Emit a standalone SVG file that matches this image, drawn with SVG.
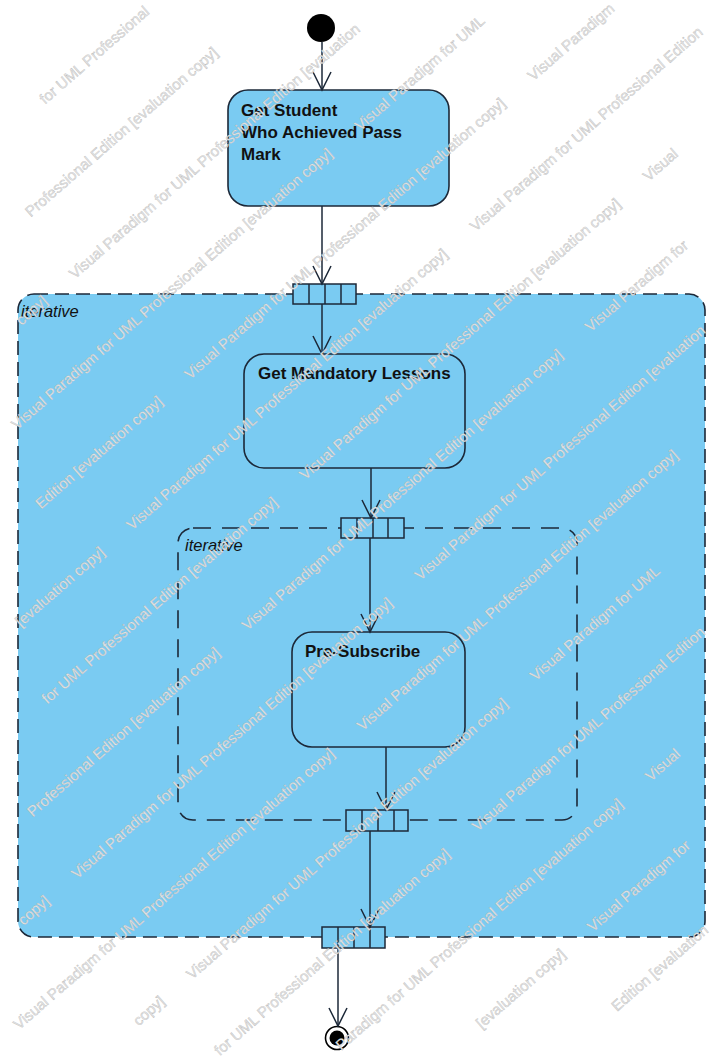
<svg xmlns="http://www.w3.org/2000/svg" width="715" height="1061" viewBox="0 0 715 1061">
<style>
.region{fill:#7acbf2;stroke:#1c2838;stroke-width:1.6;stroke-dasharray:14 7}
.inner{fill:none;stroke:#1c2838;stroke-width:1.6;stroke-dasharray:18 11}
.action{fill:#7acbf2;stroke:#1c2838;stroke-width:1.6}
.pin{fill:#7acbf2;stroke:#1c2838;stroke-width:1.5}
.div{stroke:#1c2838;stroke-width:1.5}
.label{font-family:"Liberation Sans",Arial,sans-serif;font-size:17px;font-weight:bold;fill:#111}
.iter{font-family:"Liberation Sans",Arial,sans-serif;font-size:16.5px;font-style:italic;fill:#111}
.edge{stroke:#1c2838;stroke-width:1.5;fill:none;marker-end:url(#open)}
.wm text{font-family:"Liberation Sans",Arial,sans-serif;font-size:15px;fill:#e6e6e6;stroke:#b2b2b2;stroke-width:0.3}
</style>
<defs>
<marker id="open" markerUnits="userSpaceOnUse" markerWidth="22" markerHeight="22" viewBox="0 0 22 22" refX="20" refY="11" orient="auto">
<path d="M2,2 L20,11 L2,20" fill="none" stroke="#1c2838" stroke-width="1.5"/>
</marker>
</defs>
<rect width="715" height="1061" fill="#ffffff"/>

<g id="region-outer">
<rect class="region" x="18" y="294" width="687" height="643" rx="16"/>
<text class="iter" x="21" y="317">iterative</text>
</g>
<g id="region-inner">
<rect class="inner" x="178" y="528" width="399" height="292" rx="15"/>
<text class="iter" x="185" y="551">iterative</text>
</g>

<g id="initial"><circle cx="321" cy="28" r="14" fill="#000"/></g>

<g id="get-student">
<rect class="action" x="228" y="90" width="221" height="116" rx="20"/>
<text class="label" x="241" y="116">Get Student</text>
<text class="label" x="241" y="138">Who Achieved Pass</text>
<text class="label" x="241" y="160">Mark</text>
</g>

<g id="get-mandatory">
<rect class="action" x="244" y="354" width="221" height="114" rx="20"/>
<text class="label" x="258" y="379">Get Mandatory Lessons</text>
</g>

<g id="pre-subscribe">
<rect class="action" x="292" y="632" width="173" height="115" rx="20"/>
<text class="label" x="305" y="657">Pre-Subscribe</text>
</g>

<g id="pin-outer-in">
<rect class="pin" x="293" y="284" width="63" height="20"/>
<path class="div" d="M309,284V304M325,284V304M341,284V304"/>
</g>
<g id="pin-inner-in">
<rect class="pin" x="341" y="518" width="63" height="20"/>
<path class="div" d="M357,518V538M373,518V538M388,518V538"/>
</g>
<g id="pin-inner-out">
<rect class="pin" x="346" y="810" width="62" height="21"/>
<path class="div" d="M362,810V831M378,810V831M394,810V831"/>
</g>
<g id="pin-outer-out">
<rect class="pin" x="322" y="927" width="63" height="21"/>
<path class="div" d="M338,927V948M354,927V948M370,927V948"/>
</g>

<g id="final">
<circle cx="337" cy="1038" r="11.5" fill="#fff" stroke="#000" stroke-width="1.6"/>
<circle cx="337" cy="1038" r="7.5" fill="#000"/>
</g>

<g id="connectors">
<line class="edge" x1="322" y1="42" x2="322" y2="90"/>
<line class="edge" x1="322" y1="206" x2="322" y2="284"/>
<line class="edge" x1="322" y1="304" x2="322" y2="354"/>
<line class="edge" x1="371" y1="468" x2="371" y2="518"/>
<line class="edge" x1="370" y1="538" x2="370" y2="632"/>
<line class="edge" x1="386" y1="747" x2="386" y2="810"/>
<line class="edge" x1="370" y1="831" x2="370" y2="927"/>
<line class="edge" x1="338" y1="948" x2="338" y2="1026"/>
</g>

<g id="watermark" class="wm">
<text transform="translate(45.1,104.7) rotate(-41)">for UML Professional</text>
<text transform="translate(30.7,217.6) rotate(-41)">Professional Edition [evaluation copy]</text>
<text transform="translate(21.4,325.9) rotate(-41)">copy]</text>
<text transform="translate(74.7,279.5) rotate(-41)">Visual Paradigm for UML Professional Edition [evaluation</text>
<text transform="translate(16.9,430.2) rotate(-41)">Visual Paradigm for UML Professional Edition [evaluation copy]</text>
<text transform="translate(360.2,131.6) rotate(-41)">Visual Paradigm for UML</text>
<text transform="translate(40.9,509.5) rotate(-41)">Edition [evaluation copy]</text>
<text transform="translate(189.9,380) rotate(-41)">Visual Paradigm for UML Professional Edition [evaluation copy]</text>
<text transform="translate(533.3,81.5) rotate(-41)">Visual Paradigm</text>
<text transform="translate(20.8,627.4) rotate(-41)">[evaluation copy]</text>
<text transform="translate(132.1,530.7) rotate(-41)">Visual Paradigm for UML Professional Edition [evaluation copy]</text>
<text transform="translate(475.4,232.1) rotate(-41)">Visual Paradigm for UML Professional Edition</text>
<text transform="translate(47.3,704.6) rotate(-41)">for UML Professional Edition [evaluation copy]</text>
<text transform="translate(305.1,480.5) rotate(-41)">Visual Paradigm for UML Professional Edition [evaluation copy]</text>
<text transform="translate(648.5,182) rotate(-41)">Visual</text>
<text transform="translate(32.8,817.5) rotate(-41)">Professional Edition [evaluation copy]</text>
<text transform="translate(247.2,631.1) rotate(-41)">Visual Paradigm for UML Professional Edition [evaluation copy]</text>
<text transform="translate(590.6,332.6) rotate(-41)">Visual Paradigm for</text>
<text transform="translate(23.5,925.9) rotate(-41)">copy]</text>
<text transform="translate(76.9,879.5) rotate(-41)">Visual Paradigm for UML Professional Edition [evaluation copy]</text>
<text transform="translate(420.3,581) rotate(-41)">Visual Paradigm for UML Professional Edition [evaluation</text>
<text transform="translate(19,1030.2) rotate(-41)">Visual Paradigm for UML Professional Edition [evaluation copy]</text>
<text transform="translate(362.4,731.6) rotate(-41)">Visual Paradigm for UML Professional Edition [evaluation copy]</text>
<text transform="translate(138.7,1026.4) rotate(-41)">copy]</text>
<text transform="translate(192.1,980) rotate(-41)">Visual Paradigm for UML Professional Edition [evaluation copy]</text>
<text transform="translate(535.5,681.5) rotate(-41)">Visual Paradigm for UML</text>
<text transform="translate(219.8,1056.2) rotate(-41)">for UML Professional Edition [evaluation copy]</text>
<text transform="translate(477.6,832.1) rotate(-41)">Visual Paradigm for UML Professional Edition</text>
<text transform="translate(341.2,1051) rotate(-41)">Paradigm for UML Professional Edition [evaluation copy]</text>
<text transform="translate(650.7,782) rotate(-41)">Visual</text>
<text transform="translate(481.5,1029.3) rotate(-41)">[evaluation copy]</text>
<text transform="translate(592.8,932.6) rotate(-41)">Visual Paradigm for</text>
<text transform="translate(616.9,1012) rotate(-41)">Edition [evaluation</text>
</g>
</svg>
